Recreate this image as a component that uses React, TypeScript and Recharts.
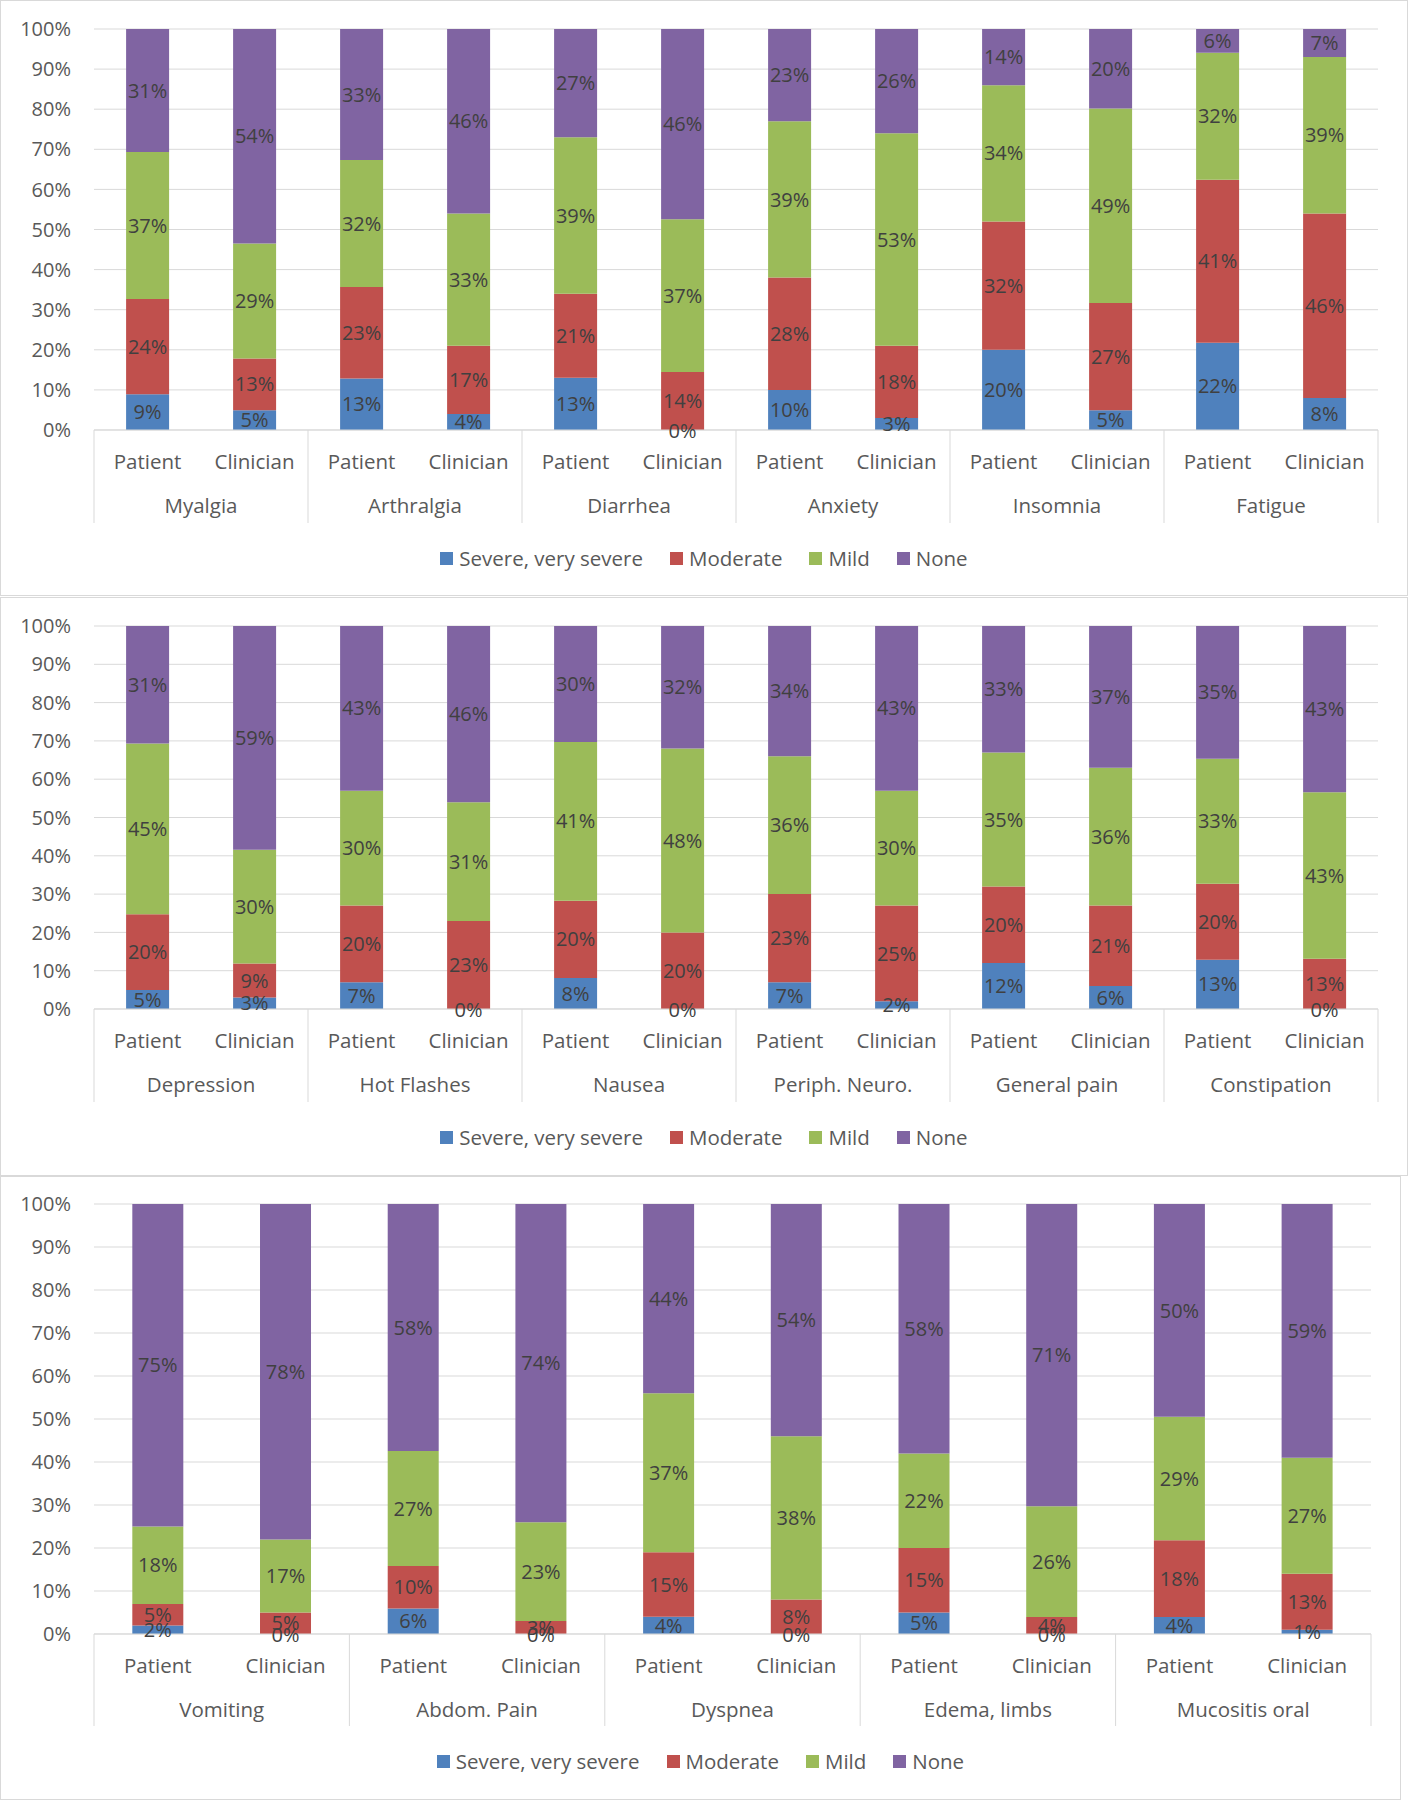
import React from "react"
import { Bar, BarChart, CartesianGrid, LabelList, XAxis, YAxis } from "recharts"

const raters = ["Patient", "Clinician"]
const yTicks = [0, 0.1, 0.2, 0.3, 0.4, 0.5, 0.6, 0.7, 0.8, 0.9, 1]

const topSymptoms = ["Myalgia", "Arthralgia", "Diarrhea", "Anxiety", "Insomnia", "Fatigue"]
const topSevere = [9, 5, 13, 4, 13, 0, 10, 3, 20, 5, 22, 8]
const topModerate = [24, 13, 23, 17, 21, 14, 28, 18, 32, 27, 41, 46]
const topMild = [37, 29, 32, 33, 39, 37, 39, 53, 34, 49, 32, 39]
const topNone = [31, 54, 33, 46, 27, 46, 23, 26, 14, 20, 6, 7]

const midSymptoms = ["Depression", "Hot Flashes", "Nausea", "Periph. Neuro.", "General pain", "Constipation"]
const midSevere = [5, 3, 7, 0, 8, 0, 7, 2, 12, 6, 13, 0]
const midModerate = [20, 9, 20, 23, 20, 20, 23, 25, 20, 21, 20, 13]
const midMild = [45, 30, 30, 31, 41, 48, 36, 30, 35, 36, 33, 43]
const midNone = [31, 59, 43, 46, 30, 32, 34, 43, 33, 37, 35, 43]

const lowSymptoms = ["Vomiting", "Abdom. Pain", "Dyspnea", "Edema, limbs", "Mucositis oral"]
const lowSevere = [2, 0, 6, 0, 4, 0, 5, 0, 4, 1]
const lowModerate = [5, 5, 10, 3, 15, 8, 15, 4, 18, 13]
const lowMild = [18, 17, 27, 23, 37, 38, 22, 26, 29, 27]
const lowNone = [75, 78, 58, 74, 44, 54, 58, 71, 50, 59]

const series = [
  { key: "severe", name: "Severe, very severe", color: "#4F81BD" },
  { key: "moderate", name: "Moderate", color: "#C0504D" },
  { key: "mild", name: "Mild", color: "#9BBB59" },
  { key: "none", name: "None", color: "#8064A2" },
]

type Row = {
  id: string
  rater: string
  symptom: string
  severe: number
  moderate: number
  mild: number
  none: number
}

function buildRows(symptoms: string[], severe: number[], moderate: number[], mild: number[], none: number[]): Row[] {
  return severe.map((v, i) => ({
    id: `${symptoms[Math.floor(i / 2)]} ${raters[i % 2]}`,
    rater: raters[i % 2],
    symptom: symptoms[Math.floor(i / 2)],
    severe: v,
    moderate: moderate[i],
    mild: mild[i],
    none: none[i],
  }))
}

const AXIS_TEXT = "#595959"
const LABEL_TEXT = "#404040"
const LINE = "#d9d9d9"

function CategoryTick(props: any) {
  const { x, y, index, rows, slot, depth } = props
  const row: Row = rows[index]
  if (!row) return null
  const first = index % 2 === 0
  const last = index === rows.length - 1
  return (
    <g>
      <text x={x} y={y + 31} textAnchor="middle" dominantBaseline="central" fill={AXIS_TEXT} fontSize={20.5}>
        {row.rater}
      </text>
      {first && <line x1={x - slot / 2} x2={x - slot / 2} y1={y} y2={y + depth} stroke={LINE} />}
      {first && (
        <text x={x + slot / 2} y={y + 75} textAnchor="middle" dominantBaseline="central" fill={AXIS_TEXT} fontSize={20.5}>
          {row.symptom}
        </text>
      )}
      {last && <line x1={x + slot / 2} x2={x + slot / 2} y1={y} y2={y + depth} stroke={LINE} />}
    </g>
  )
}

// zero-height segments get no label from recharts, Excel still prints "0%" on the baseline
function ZeroLabel(props: any) {
  const { x, y, width, height, value } = props
  if (value !== 0 || x == null) return null
  const bottom = Math.max(y, y + height)
  return (
    <text x={x + width / 2} y={bottom} textAnchor="middle" dominantBaseline="central" fill={LABEL_TEXT} fontSize={20}>
      0%
    </text>
  )
}

function Legend() {
  return (
    <div style={{ display: "flex", justifyContent: "center", alignItems: "center", height: 28, fontSize: 20.5, color: AXIS_TEXT }}>
      {series.map((s, i) => (
        <div key={s.key} style={{ display: "flex", alignItems: "center", marginLeft: i === 0 ? 0 : 27 }}>
          <span style={{ width: 13, height: 13, background: s.color, marginRight: 6, display: "inline-block" }} />
          <span>{s.name}</span>
        </div>
      ))}
    </div>
  )
}

function Panel({
  rows,
  top,
  width,
  height,
  chartHeight,
  marginTop,
  axisHeight,
  legendTop,
}: {
  rows: Row[]
  top: number
  width: number
  height: number
  chartHeight: number
  marginTop: number
  axisHeight: number
  legendTop: number
}) {
  const chartWidth = width - 2
  const yWidth = 93
  const right = 29
  const slot = (chartWidth - yWidth - right) / rows.length
  return (
    <div
      style={{
        position: "absolute",
        left: 0,
        top,
        width,
        height,
        border: `1px solid ${LINE}`,
        boxSizing: "border-box",
        background: "#fff",
      }}
    >
      <BarChart
        width={chartWidth}
        height={chartHeight}
        data={rows}
        stackOffset="expand"
        barCategoryGap="30%"
        margin={{ top: marginTop, right, bottom: 0, left: 0 }}
      >
        <CartesianGrid vertical={false} stroke={LINE} />
        <XAxis
          dataKey="id"
          interval={0}
          height={axisHeight}
          tickLine={false}
          tickSize={0}
          tickMargin={0}
          axisLine={{ stroke: LINE }}
          tick={(p: any) => <CategoryTick {...p} rows={rows} slot={slot} depth={axisHeight} />}
        />
        <YAxis
          type="number"
          domain={[0, 1]}
          ticks={yTicks}
          width={yWidth}
          axisLine={false}
          tickLine={false}
          tickSize={0}
          tickMargin={23}
          tick={{ fill: AXIS_TEXT, fontSize: 20 }}
          tickFormatter={(v: number) => `${Math.round(v * 100)}%`}
        />
        {series.map((s) => (
          <Bar key={s.key} dataKey={s.key} name={s.name} stackId="a" fill={s.color} isAnimationActive={false}>
            <LabelList
              dataKey={s.key}
              position="center"
              formatter={(v: any) => `${v}%`}
              fill={LABEL_TEXT}
              fontSize={20}
            />
            {s.key === "moderate" && <LabelList dataKey="severe" content={ZeroLabel} />}
          </Bar>
        ))}
      </BarChart>
      <div style={{ position: "absolute", left: 0, right: 0, top: legendTop }}>
        <Legend />
      </div>
    </div>
  )
}

const topRows = buildRows(topSymptoms, topSevere, topModerate, topMild, topNone)
const midRows = buildRows(midSymptoms, midSevere, midModerate, midMild, midNone)
const lowRows = buildRows(lowSymptoms, lowSevere, lowModerate, lowMild, lowNone)

export default function App() {
  return (
    <div
      style={{
        position: "absolute",
        left: 0,
        top: 0,
        width: 1409,
        height: 1800,
        background: "#fff",
        fontFamily: "'Open Sans', sans-serif",
      }}
    >
      <Panel rows={topRows} top={0} width={1408} height={596} chartHeight={522} marginTop={28} axisHeight={93} legendTop={543} />
      <Panel rows={midRows} top={597} width={1408} height={579} chartHeight={504} marginTop={28} axisHeight={93} legendTop={525} />
      <Panel rows={lowRows} top={1176} width={1401} height={624} chartHeight={549} marginTop={27} axisHeight={92} legendTop={570} />
    </div>
  )
}
